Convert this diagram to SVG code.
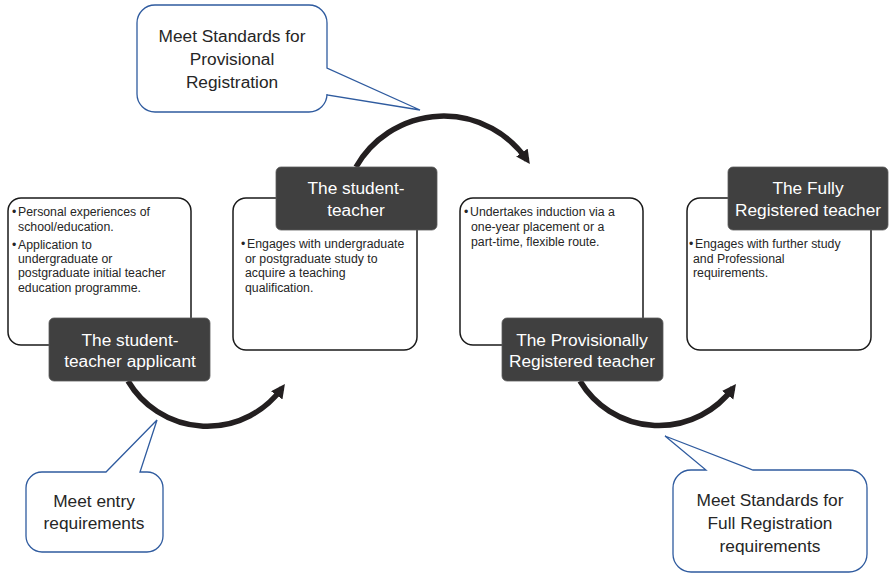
<svg xmlns="http://www.w3.org/2000/svg" width="889" height="573" viewBox="0 0 889 573">
<style>
.box{fill:#fff;stroke:#1a1a1a;stroke-width:1.5}
.lab{fill:#404040;stroke:#5a5a5a;stroke-width:0.8}
.lt{font-family:"Liberation Sans",Arial,sans-serif;font-size:17.3px;fill:#fff;text-anchor:middle}
.bt{font-family:"Liberation Sans",Arial,sans-serif;font-size:12.3px;fill:#262626}
.call{fill:#fff;stroke:#2f5b9f;stroke-width:1.3}
.ct{font-family:"Liberation Sans",Arial,sans-serif;font-size:17.3px;fill:#262626;text-anchor:middle}
.arc{fill:none;stroke:#231f20;stroke-width:5.5}
</style>
<defs>
<marker id="ah" markerUnits="userSpaceOnUse" markerWidth="16" markerHeight="16" refX="9" refY="7" orient="auto">
<path d="M0,0 L14,7 L0,14 z" fill="#231f20"/>
</marker>
</defs>
<g id="connectors">
<path class="arc" d="M128,381 A92,92 0 0,0 282,388" marker-end="url(#ah)"/>
<path class="arc" d="M580,381 A92,92 0 0,0 733,388" marker-end="url(#ah)"/>
<path class="arc" d="M356,167 A101,101 0 0,1 527,160" marker-end="url(#ah)"/>
</g>
<g id="node-applicant">
<rect class="box" x="8" y="198" width="183" height="147" rx="13"/>
<text class="bt" x="12" y="216">•</text><text class="bt" x="18" y="216">Personal experiences of</text>
<text class="bt" x="18" y="231">school/education.</text>
<text class="bt" x="12" y="249">•</text><text class="bt" x="18" y="249">Application to</text>
<text class="bt" x="18" y="263">undergraduate or</text>
<text class="bt" x="18" y="277">postgraduate initial teacher</text>
<text class="bt" x="18" y="292">education programme.</text>
<rect class="lab" x="49" y="318" width="161" height="63" rx="5"/>
<text class="lt" x="130" y="346">The student-</text>
<text class="lt" x="130" y="367">teacher applicant</text>
</g>
<g id="node-student">
<rect class="box" x="233" y="198" width="184" height="152" rx="13"/>
<text class="bt" x="241" y="248">•</text><text class="bt" x="247" y="248">Engages with undergraduate</text>
<text class="bt" x="245" y="263">or postgraduate study to</text>
<text class="bt" x="245" y="277">acquire a teaching</text>
<text class="bt" x="245" y="292">qualification.</text>
<rect class="lab" x="276" y="167" width="161" height="63" rx="5"/>
<text class="lt" x="356" y="194">The student-</text>
<text class="lt" x="356" y="216">teacher</text>
</g>
<g id="node-provisional">
<rect class="box" x="460" y="198" width="183" height="147" rx="13"/>
<text class="bt" x="464" y="216">•</text><text class="bt" x="470" y="216">Undertakes induction via a</text>
<text class="bt" x="471" y="231">one-year placement or a</text>
<text class="bt" x="471" y="246">part-time, flexible route.</text>
<rect class="lab" x="502" y="318" width="161" height="63" rx="5"/>
<text class="lt" x="582" y="346">The Provisionally</text>
<text class="lt" x="582" y="367">Registered teacher</text>
</g>
<g id="node-full">
<rect class="box" x="687" y="198" width="184" height="152" rx="13"/>
<text class="bt" x="689" y="248">•</text><text class="bt" x="695" y="248">Engages with further study</text>
<text class="bt" x="693" y="263">and Professional</text>
<text class="bt" x="693" y="277">requirements.</text>
<rect class="lab" x="728" y="167" width="160" height="63" rx="5"/>
<text class="lt" x="808" y="194">The Fully</text>
<text class="lt" x="808" y="216">Registered teacher</text>
</g>
<g id="callout-provisional">
<path class="call" d="M155,5 H309 A18,18 0 0 1 327,23 V68 L420,110 L327,95 V94 A18,18 0 0 1 309,112 H155 A18,18 0 0 1 137,94 V23 A18,18 0 0 1 155,5 Z"/>
<text class="ct" x="232" y="42">Meet Standards for</text>
<text class="ct" x="232" y="65">Provisional</text>
<text class="ct" x="232" y="88">Registration</text>
</g>
<g id="callout-entry">
<path class="call" d="M42,472 H106 L157,420 L140,472 H147 A16,16 0 0 1 163,488 V536 A16,16 0 0 1 147,552 H42 A16,16 0 0 1 26,536 V488 A16,16 0 0 1 42,472 Z"/>
<text class="ct" x="94" y="507">Meet entry</text>
<text class="ct" x="94" y="529">requirements</text>
</g>
<g id="callout-full">
<path class="call" d="M691,470 H706 L665,436 L753,470 H849 A18,18 0 0 1 867,488 V554 A18,18 0 0 1 849,572 H691 A18,18 0 0 1 673,554 V488 A18,18 0 0 1 691,470 Z"/>
<text class="ct" x="770" y="506">Meet Standards for</text>
<text class="ct" x="770" y="529">Full Registration</text>
<text class="ct" x="770" y="552">requirements</text>
</g>
</svg>
